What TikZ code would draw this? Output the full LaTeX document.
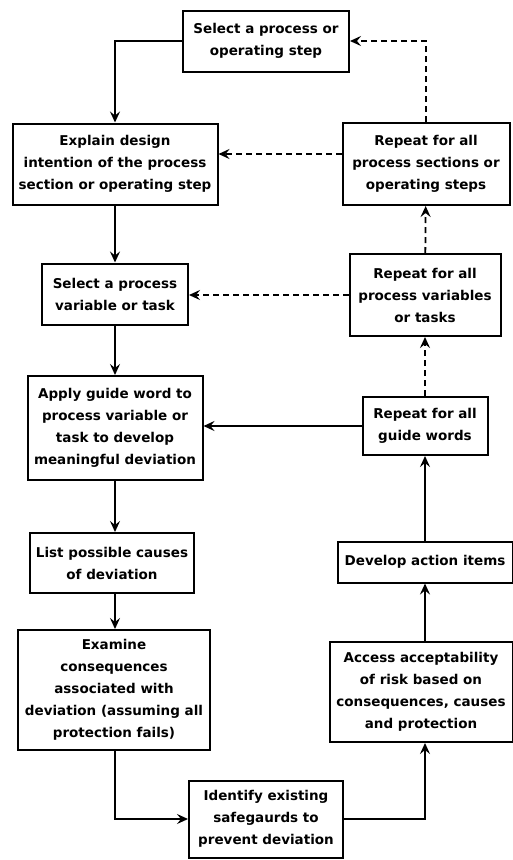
\documentclass[tikz,border=0pt]{standalone}
\usepackage{fontspec}
\setmainfont{DejaVu Sans}
\usetikzlibrary{arrows.meta}
\begin{document}
\begin{tikzpicture}[x=1pt,y=-1pt,
  stepbox/.style={draw,line width=2pt,align=center,inner sep=2pt,
    font=\bfseries\fontsize{13.5}{22}\selectfont},
  flow/.style={line width=1.8pt,-{Stealth[length=11pt,width=10pt,inset=4pt]}},
  back/.style={flow,dash pattern=on 6pt off 4pt}]
\useasboundingbox (0,0) rectangle (513,860);
% left column
\node[stepbox,minimum width=166pt,minimum height=61pt] (select) at (266,41) {Select a process or\\operating step};
\node[stepbox,minimum width=205pt,minimum height=81pt] (explain) at (115,164) {Explain design\\intention of the process\\section or operating step};
\node[stepbox,minimum width=146pt,minimum height=61pt] (variable) at (115,294) {Select a process\\variable or task};
\node[stepbox,minimum width=175pt,minimum height=104pt] (guide) at (115,428) {Apply guide word to\\process variable or\\task to develop\\meaningful deviation};
\node[stepbox,minimum width=164pt,minimum height=60pt] (causes) at (112,563) {List possible causes\\of deviation};
\node[stepbox,minimum width=192pt,minimum height=120pt] (conseq) at (114,690) {Examine\\consequences\\associated with\\deviation (assuming all\\protection fails)};
\node[stepbox,minimum width=154pt,minimum height=77pt] (guard) at (266,819) {Identify existing\\safegaurds to\\prevent deviation};
% right column
\node[stepbox,minimum width=167pt,minimum height=82pt] (sections) at (426,164) {Repeat for all\\process sections or\\operating steps};
\node[stepbox,minimum width=151pt,minimum height=82pt] (variables) at (425,295) {Repeat for all\\process variables\\or tasks};
\node[stepbox,minimum width=125pt,minimum height=58pt] (words) at (425,426) {Repeat for all\\guide words};
\node[stepbox,minimum width=175pt,minimum height=41pt] (actions) at (425,562) {Develop action items};
\node[stepbox,minimum width=183pt,minimum height=100pt] (risk) at (421,692) {Access acceptability\\of risk based on\\consequences, causes\\and protection};
% forward flow
\draw[flow] (select.west) -| (explain.north);
\draw[flow] (explain) -- (variable);
\draw[flow] (variable) -- (guide);
\draw[flow] (guide.south) -- (guide.south |- causes.north);
\draw[flow] (causes.south -| guide.south) -- (guide.south |- conseq.north);
\draw[flow] (conseq.south -| guide.south) |- (guard.west);
\draw[flow] (guard.east) -| (risk.south -| actions.south);
\draw[flow] (risk.north -| actions.south) -- (actions.south);
\draw[flow] (actions) -- (words);
\draw[flow] (words.west) -- (words.west -| guide.east);
% repeat loops
\draw[back] (words) -- (variables);
\draw[back] (variables) -- (sections);
\draw[back] (variables.west) -- (variables.west -| variable.east);
\draw[back] ([yshift=10pt]sections.west) -- ([yshift=10pt]sections.west -| explain.east);
\draw[back] (sections.north) |- (select.east);
\end{tikzpicture}
\end{document}
